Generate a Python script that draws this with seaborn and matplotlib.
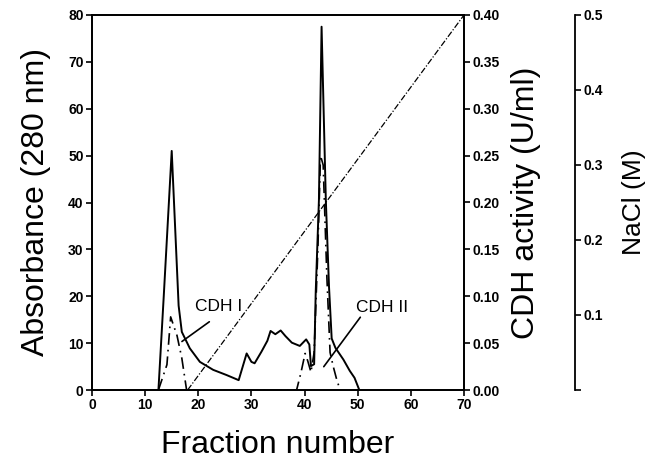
import seaborn as sns
import matplotlib.pyplot as plt
import matplotlib.ticker as mticker
import pandas as pd
import numpy as np

# absorbance at 280 nm (left axis)
abs_fraction = [0, 12.5, 13.5, 15.0, 16.3, 16.9, 18.4, 20.3, 22.8, 25.3, 27.6,
                29.1, 30.0, 30.6, 31.9, 33.0, 33.6, 34.5, 35.5, 36.4, 37.6,
                39.1, 40.3, 40.9, 41.2, 41.8, 42.1, 42.7, 43.2, 44.0, 44.6,
                45.1, 45.8, 47.3, 48.5, 49.4, 50.3]
abs_value = [0, 0, 20, 51, 18, 12.4, 8.9, 6.0, 4.3, 3.2, 2.1,
             7.8, 6.0, 5.7, 8.2, 10.5, 12.6, 11.9, 12.7, 11.5, 10.1,
             9.4, 10.8, 9.7, 5.1, 5.5, 21, 40.5, 77.5, 40.5, 22,
             11, 9.0, 6.5, 4.1, 2.6, 0]

# CDH activity (U/ml, right axis)
act_fraction = [12.5, 14.1, 14.8, 16.0, 16.9, 17.8, 38.5, 39.3, 40.1, 40.6,
                41.2, 41.8, 42.5, 43.0, 43.5, 44.2, 44.8, 45.4, 46.1, 46.7]
act_value = [0, 0.027, 0.078, 0.058, 0.034, 0, 0, 0.018, 0.039, 0.031,
             0.019, 0.04, 0.15, 0.25, 0.24, 0.12, 0.04, 0.025, 0.01, 0]

# NaCl gradient (M)
nacl_fraction = [18, 70]
nacl_value = [0.0, 0.5]

# peak labels (absorbance coordinates)
peak_names = ['CDH I', 'CDH II']
peak_text_pos = [(23.9, 17.8), (54.5, 17.7)]
peak_line_start = [(16.5, 10.0), (43.3, 4.5)]
peak_line_end = [(22.5, 14.9), (50.8, 16.0)]

absorb = pd.DataFrame({'fraction': abs_fraction, 'absorbance': abs_value})
activity = pd.DataFrame({'fraction': act_fraction, 'activity': act_value})
nacl = pd.DataFrame({'fraction': nacl_fraction, 'nacl': nacl_value})

sns.set_theme(style='ticks')
plt.rcParams['font.family'] = ['Liberation Sans', 'DejaVu Sans']
plt.rcParams['axes.linewidth'] = 1.3
for key in ['text.color', 'axes.labelcolor', 'xtick.color', 'ytick.color', 'axes.edgecolor']:
    plt.rcParams[key] = 'black'

fig = plt.figure(figsize=(6.49, 4.68), dpi=100)
ax = fig.add_axes([92 / 649, 1 - 390 / 468, (464 - 92) / 649, (390 - 15) / 468])
ax2 = ax.twinx()
ax3 = ax.twinx()

sns.lineplot(data=absorb, x='fraction', y='absorbance', ax=ax, color='black',
             linewidth=1.4, sort=False, estimator=None)
sns.lineplot(data=activity, x='fraction', y='activity', ax=ax2, color='black',
             linewidth=1.2, sort=False, estimator=None, linestyle=(0, (7, 3, 1, 3)))
sns.lineplot(data=nacl, x='fraction', y='nacl', ax=ax3, color='black',
             linewidth=0.9, sort=False, estimator=None, linestyle=(0, (5, 1.5, 1, 1.5)))

ax.set_xlim(0, 70)
ax.set_ylim(0, 80)
ax2.set_ylim(0, 0.4)
ax3.set_ylim(0, 0.5)

ax.set_xticks(np.arange(0, 71, 10))
ax.set_yticks(np.arange(0, 81, 10))
ax2.set_yticks(np.arange(0, 0.401, 0.05))
ax2.yaxis.set_major_formatter(mticker.FormatStrFormatter('%.2f'))
ax3.set_yticks(np.arange(0, 0.501, 0.1))
ax3.set_yticklabels([''] + ['%.1f' % v for v in np.arange(0.1, 0.501, 0.1)])

ax3.spines['right'].set_position(('axes', (575 - 92) / (464 - 92)))
for side in ['top', 'bottom', 'left']:
    ax3.spines[side].set_visible(False)
for a in (ax, ax2):
    for side in ['top', 'right', 'left', 'bottom']:
        a.spines[side].set_visible(True)
        a.spines[side].set_linewidth(1.3)
ax3.spines['right'].set_linewidth(1.3)

for a in (ax, ax2, ax3):
    a.tick_params(direction='out', length=4, width=1.2, labelsize=10, pad=2, color='black')
    for lab in a.get_xticklabels() + a.get_yticklabels():
        lab.set_fontweight('bold')

ax.set_xlabel('Fraction number', fontsize=23, labelpad=13)
ax.set_ylabel('Absorbance (280 nm)', fontsize=23, labelpad=12)
ax2.set_ylabel('CDH activity (U/ml)', fontsize=23, labelpad=8)
ax3.set_ylabel('NaCl (M)', fontsize=19, labelpad=14)
ax3.set_xlabel('')

for name, tpos, p0, p1 in zip(peak_names, peak_text_pos, peak_line_start, peak_line_end):
    ax.text(tpos[0], tpos[1], name, fontsize=12.5, ha='center', va='center')
    ax.annotate('', xy=p0, xytext=p1, arrowprops=dict(arrowstyle='-', color='black', lw=1.2))

fig.savefig('out.png', dpi=100)
